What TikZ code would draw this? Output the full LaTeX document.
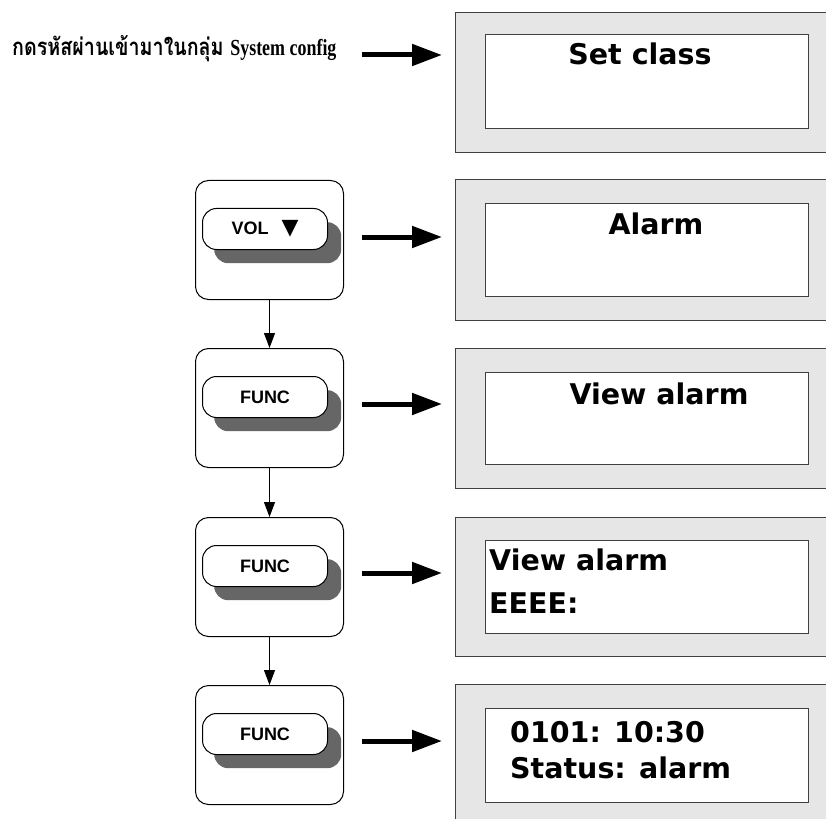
\documentclass[tikz,border=0pt]{standalone}
\usepackage{fontspec}
\usetikzlibrary{arrows.meta}
\newfontfamily\thaifont[Script=Thai, FakeStretch=0.82]{Loma}
\newfontfamily\lcdfont{DejaVu Sans}
\newfontfamily\keyfont{Liberation Sans}
\newfontfamily\serifbold[FakeStretch=0.78]{Liberation Serif}
\definecolor{panelgray}{HTML}{E6E6E6}
\definecolor{shadowgray}{HTML}{666666}
\definecolor{edgegray}{HTML}{404040}
\tikzset{
  panel/.style={draw=edgegray, line width=1.3pt, fill=panelgray, rectangle, inner sep=0pt, anchor=north west, minimum width=400pt, minimum height=#1},
  screen/.style={draw=edgegray, line width=1pt, fill=white, rectangle, inner sep=0pt, anchor=north west, minimum width=323pt, minimum height=#1},
  lcd/.style={font=\lcdfont\bfseries\fontsize{28.5}{32}\selectfont, inner sep=0pt},
  keybox/.style={draw=black, line width=1pt, fill=white, rounded corners=13pt, inner sep=0pt, anchor=north west, minimum width=148pt, minimum height=119pt},
  pillshadow/.style={fill=shadowgray, rounded corners=14pt, inner sep=0pt, anchor=north west, minimum width=127pt, minimum height=41pt},
  pill/.style={draw=black, line width=1pt, fill=white, rounded corners=14pt, inner sep=0pt, anchor=north west, minimum width=125pt, minimum height=41pt, font=\keyfont\bfseries\fontsize{18}{20}\selectfont},
  bigarrow/.style={line width=5pt, -{Triangle[length=30pt,width=21pt]}},
  thinarrow/.style={line width=1pt, -{Triangle[length=15pt,width=11pt]}},
}
\begin{document}
\begin{tikzpicture}[x=1pt,y=-1pt]
\useasboundingbox (0,0) rectangle (826,818);
\begin{scope}
\clip (0,0) rectangle (826,818);
% panels
\node[panel=140pt] (p1) at (455,12) {};
\node[screen=94pt] (s1) at (485,34) {};
\node[panel=141pt] (p2) at (455,179) {};
\node[screen=93pt] (s2) at (485,203) {};
\node[panel=140pt] (p3) at (455,348) {};
\node[screen=92pt] (s3) at (485,372) {};
\node[panel=139pt] (p4) at (455,517) {};
\node[screen=93pt] (s4) at (485,540) {};
\node[panel=150pt] (p5) at (455,684) {};
\node[screen=94pt] (s5) at (485,708) {};
\end{scope}
\node[lcd, anchor=base] (t1) at (640,65) {Set class};
\node[lcd, anchor=base] (t2) at (656,234) {Alarm};
\node[lcd, anchor=base] (t3) at (659,404) {View alarm};
\node[lcd, anchor=base west] (t4a) at (489,570) {View alarm};
\node[lcd, anchor=base west] (t4b) at (489,613) {EEEE:};
\node[lcd, anchor=base west] (t5a) at (510,742) {0101: 10:30};
\node[lcd, anchor=base west] (t5b) at (510,778) {Status: alarm};
% label
\node[anchor=base west, inner sep=0pt] (lbl) at (12,56) {\thaifont\bfseries\fontsize{24}{28}\selectfont กดรหัสผ่านเข้ามาในกลุ่ม {\serifbold\bfseries\fontsize{23}{28}\selectfont System config}};
% key boxes
\node[keybox] (k1) at (195,180) {};
\node[keybox] (k2) at (195,348) {};
\node[keybox] (k3) at (195,517) {};
\node[keybox] (k4) at (195,685) {};
\node[pillshadow] (h1) at (214,222) {};
\node[pillshadow] (h2) at (214,390) {};
\node[pillshadow] (h3) at (214,559) {};
\node[pillshadow] (h4) at (214,727) {};
\node[pill] (b1) at (202,208) {VOL\hspace{13pt}{\lcdfont\fontsize{22}{24}\selectfont ▼}\hspace{14pt}};
\node[pill] (b2) at (202,376) {FUNC};
\node[pill] (b3) at (202,545) {FUNC};
\node[pill] (b4) at (202,713) {FUNC};
% vertical arrows
\draw[thinarrow] (k1.south) -- (k2.north);
\draw[thinarrow] (k2.south) -- (k3.north);
\draw[thinarrow] (k3.south) -- (k4.north);
% horizontal arrows
\coordinate (a0s) at (362,55);
\coordinate (a0e) at (442,55);
\coordinate (a1s) at (362,237);
\coordinate (a1e) at (442,237);
\coordinate (a2s) at (362,404);
\coordinate (a2e) at (442,404);
\coordinate (a3s) at (362,573);
\coordinate (a3e) at (442,573);
\coordinate (a4s) at (362,741);
\coordinate (a4e) at (442,741);
\draw[bigarrow] (a0s) -- (a0e);
\draw[bigarrow] (a1s) -- (a1e);
\draw[bigarrow] (a2s) -- (a2e);
\draw[bigarrow] (a3s) -- (a3e);
\draw[bigarrow] (a4s) -- (a4e);
\end{tikzpicture}
\end{document}
